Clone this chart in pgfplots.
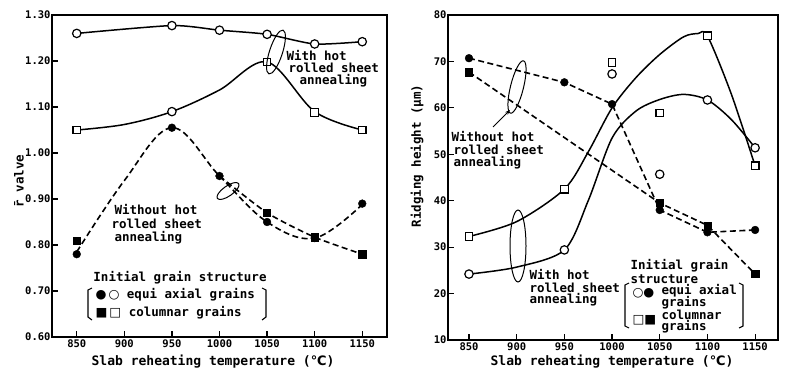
\documentclass[border=0pt]{standalone}
\usepackage{fontspec}
\setmainfont{DejaVu Sans Mono}[BoldFont={DejaVu Sans Mono Bold}]
\newfontfamily\sym{DejaVu Sans}
\usepackage{pgfplots}
\pgfplotsset{compat=1.18}
\usetikzlibrary{arrows.meta}
\begin{document}
\begin{tikzpicture}[x=1pt,y=1pt]
\path[use as bounding box] (0,0) rectangle (789,376);
\pgfplotsset{
  every axis/.append style={
    scale only axis, axis line style={line width=1.3pt},
    xtick={850,900,950,1000,1050,1100,1150},
    xtick pos=left, ytick pos=left, tick align=inside,
    major tick length=6pt, tick style={line width=1.2pt,black},
    tick label style={font=\bfseries\fontsize{10.5}{11}\selectfont},
    /pgf/number format/assume math mode=true,
    xticklabel style={/pgf/number format/1000 sep={}},
    clip=false,
  },
  solidl/.style={black, line width=1.5pt},
  dashl/.style={black, line width=1.6pt, dash pattern=on 6pt off 3.5pt},
  oc/.style={only marks, mark=*, mark size=4.2pt, mark options={line width=1.2pt, draw=black, fill=white, solid}},
  os/.style={only marks, mark=square*, mark size=3.8pt, mark options={line width=1.2pt, draw=black, fill=white, solid}},
  fc/.style={only marks, mark=*, mark size=3.9pt, mark options={solid,fill=black}},
  fs/.style={only marks, mark=square*, mark size=3.6pt, mark options={solid,fill=black}},
}
% ---------------- left chart ----------------
\begin{axis}[at={(52pt,39pt)}, anchor=south west, width=335pt, height=322pt,
  xmin=824, xmax=1176, ymin=0.6, ymax=1.3,
  ytick={0.6,0.7,0.8,0.9,1.0,1.1,1.2,1.3},
  yticklabel style={/pgf/number format/fixed, /pgf/number format/fixed zerofill, /pgf/number format/precision=2},
  yticklabel style={xshift=2pt}, xticklabel style={yshift=1pt}]
% with annealing, equiaxial (open circles)
\addplot[solidl, smooth, tension=0.4] coordinates {(850,1.26)(950,1.277)(1000,1.267)(1050,1.258)(1100,1.237)(1150,1.242)};
\addplot[oc] coordinates {(850,1.26)(950,1.277)(1000,1.267)(1050,1.258)(1100,1.237)(1150,1.242)};
% with annealing, columnar (open squares)
\addplot[solidl, smooth, tension=0.55] coordinates {(850,1.05)(900,1.062)(950,1.09)(1000,1.137)(1050,1.198)(1100,1.09)(1150,1.05)};
\addplot[os] coordinates {(850,1.05)(1050,1.198)(1100,1.088)(1150,1.05)};
\addplot[oc] coordinates {(950,1.09)};
% without annealing, equiaxial (filled circles)
\addplot[dashl, smooth, tension=0.6] coordinates {(850,0.785)(900,0.94)(950,1.055)(1000,0.95)(1050,0.85)(1100,0.815)(1150,0.888)};
\addplot[fc] coordinates {(850,0.78)(950,1.055)(1000,0.95)(1050,0.85)(1100,0.815)(1150,0.89)};
% without annealing, columnar (filled squares)
\addplot[dashl, smooth, tension=0.4] coordinates {(1000,0.95)(1050,0.87)(1100,0.817)(1150,0.78)};
\addplot[fs] coordinates {(850,0.81)(1050,0.87)(1100,0.817)(1150,0.78)};
\end{axis}
% ---------------- right chart ----------------
\begin{axis}[at={(448pt,36pt)}, anchor=south west, width=330pt, height=325pt,
  xmin=828, xmax=1174, ymin=10, ymax=80,
  ytick={10,20,30,40,50,60,70,80},
  yticklabel style={xshift=2pt}, xticklabel style={yshift=1pt}]
% with annealing, columnar (open squares) -- fitted curve
\addplot[solidl, smooth, tension=0.5] coordinates {(850,32.3)(900,35.5)(950,42.5)(975,50.5)(1000,60)(1025,66.5)(1050,71.5)(1075,75.3)(1090,76)(1100,75.5)(1125,63)(1150,47.5)};
% with annealing, equiaxial (open circles) -- fitted curve
\addplot[solidl, smooth, tension=0.5] coordinates {(850,24.2)(900,25.7)(950,29.4)(975,40)(1000,53.5)(1025,59.3)(1050,61.8)(1075,62.9)(1100,61.7)(1125,57.5)(1150,51.4)};
% without annealing, equiaxial (filled circles)
\addplot[dashl] coordinates {(850,70.7)(950,65.5)(1000,60.8)(1050,38)(1100,33.2)(1150,33.7)};
% without annealing, columnar (filled squares)
\addplot[dashl] coordinates {(850,67.7)(1050,39.5)(1100,34.7)(1150,24.2)};
\addplot[os] coordinates {(850,32.3)(950,42.5)(1100,75.5)(1150,47.5)(1000,69.8)(1050,58.9)};
\addplot[oc] coordinates {(850,24.2)(950,29.4)(1100,61.7)(1150,51.4)(1000,67.3)(1050,45.7)};
\addplot[fc] coordinates {(850,70.7)(950,65.5)(1000,60.8)(1050,38)(1100,33.2)(1150,33.7)};
\addplot[fs] coordinates {(850,67.7)(1050,39.5)(1100,34.7)(1150,24.2)};
\end{axis}
% ---------------- labels ----------------
\def\lf{\bfseries\fontsize{12.5}{13}\selectfont}
\node[font=\bfseries\fontsize{13}{14}\selectfont] at (213,14) {Slab reheating temperature ({\sym\bfseries ℃})};
\node[font=\bfseries\fontsize{13}{14}\selectfont] at (612,14) {Slab reheating temperature ({\sym\bfseries ℃})};
\node[font=\bfseries\fontsize{12.5}{13}\selectfont, rotate=90] at (19,195) {\={r} valve};
\node[font=\bfseries\fontsize{12.5}{13}\selectfont, rotate=90] at (417,220) {Ridging height (μm)};
% left annotations
\node[font=\lf, anchor=west] at (283,320) {With hot};
\node[font=\lf, anchor=west] at (285,308) {rolled sheet};
\node[font=\lf, anchor=west] at (296,295) {annealing};
\draw[line width=1pt, rotate around={-18:(276,324)}] (276,324) ellipse [x radius=6.5, y radius=23];
\node[font=\lf, anchor=west] at (111,166) {Without hot};
\node[font=\lf, anchor=west] at (108,152) {rolled sheet};
\node[font=\lf, anchor=west] at (111,138) {annealing};
\draw[line width=1pt, rotate around={35:(228,185)}] (228,185) ellipse [x radius=13, y radius=5];
% left legend
\node[font=\lf] at (180,98) {Initial grain structure};
\node[font=\lf, anchor=west] at (92,81) {{\sym ●}\,{\sym ○}\ equi axial grains};
\node[font=\lf, anchor=west] at (92,63) {{\sym ■}\,{\sym □}\ columnar grains};
\draw[line width=1.1pt] (92,88) -- (88,86) -- (88,59) -- (92,56);
\draw[line width=1.1pt] (262,88) -- (266,86) -- (266,59) -- (262,56);
% right annotations
\draw[line width=1pt, rotate around={-14:(517,289)}] (517,289) ellipse [x radius=6.5, y radius=27];
\draw[line width=1pt, -{Stealth[length=5pt]}] (493,249) -- (510,266);
\node[font=\lf, anchor=west] at (448,239) {Without hot};
\node[font=\lf, anchor=west] at (450,226) {rolled sheet};
\node[font=\lf, anchor=west] at (450,213) {annealing};
\draw[line width=1pt] (518,130) ellipse [x radius=8, y radius=36];
\node[font=\lf, anchor=west] at (526,101) {With hot};
\node[font=\lf, anchor=west] at (526,88) {rolled sheet};
\node[font=\lf, anchor=west] at (526,76) {annealing};
% right legend
\node[font=\lf, anchor=west] at (627,110) {Initial grain};
\node[font=\lf, anchor=west] at (627,97) {structure};
\node[font=\lf, anchor=west] at (629,83) {{\sym ○}{\sym ●}};
\node[font=\lf, anchor=west] at (629,56) {{\sym □}{\sym ■}};
\node[font=\lf, anchor=west] at (658,85) {equi axial};
\node[font=\lf, anchor=west] at (658,73) {grains};
\node[font=\lf, anchor=west] at (658,61) {columnar};
\node[font=\lf, anchor=west] at (658,49) {grains};
\draw[line width=1.1pt] (629,93) -- (625,91) -- (625,50) -- (629,48);
\draw[line width=1.1pt] (739,93) -- (743,91) -- (743,50) -- (739,48);
\end{tikzpicture}
\end{document}
